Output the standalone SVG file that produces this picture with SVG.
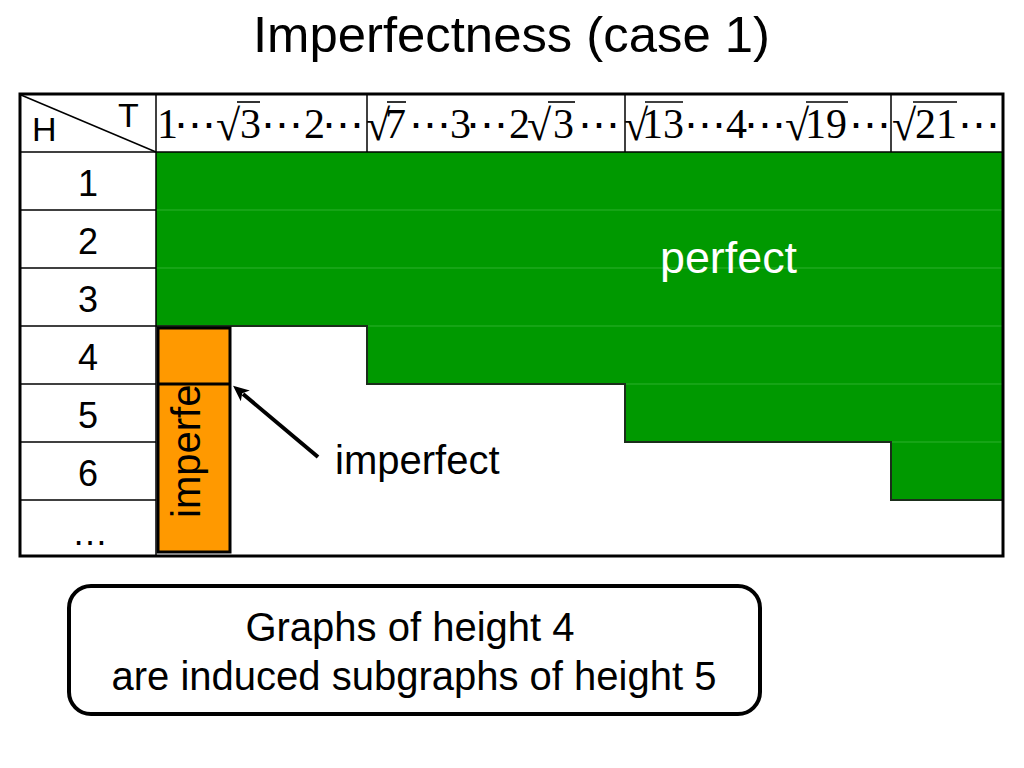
<svg xmlns="http://www.w3.org/2000/svg" width="1024" height="768" viewBox="0 0 1024 768">
<style>
.sans{font-family:"Liberation Sans",Arial,sans-serif;}
.serif{font-family:"Liberation Serif","Times New Roman",serif;font-size:42px;fill:#000;}
.rad{font-size:44px;}
.dots{font-family:"DejaVu Serif",serif;font-size:42px;}
.row{font-family:"Liberation Sans",Arial,sans-serif;font-size:36px;text-anchor:middle;fill:#000;}
.grid{stroke:#000;stroke-width:1.5;fill:none;}
.vinc{stroke:#000;stroke-width:1.6;}
.glow{stroke:#2db02d;stroke-width:1;}
</style>
<defs>
<marker id="arrowhead" markerWidth="16" markerHeight="14" refX="3" refY="7" orient="auto" markerUnits="userSpaceOnUse" viewBox="0 0 16 14">
<path d="M0,0 L16,7 L0,14 L4,7 Z" fill="#000"/>
</marker>
</defs>
<rect width="1024" height="768" fill="#fff"/>
<g id="title">
<text class="sans" x="253" y="52" font-size="50" textLength="517" lengthAdjust="spacingAndGlyphs">Imperfectness (case 1)</text>
</g>
<g id="table">
<polygon points="156,152 1003,152 1003,500 891,500 891,442 625,442 625,384 367,384 367,326 156,326" fill="#009900"/>
<line class="glow" x1="156" y1="210" x2="1003" y2="210"/>
<line class="glow" x1="156" y1="268" x2="1003" y2="268"/>
<line class="glow" x1="367" y1="326" x2="1003" y2="326"/>
<line class="glow" x1="625" y1="384" x2="1003" y2="384"/>
<line class="glow" x1="891" y1="442" x2="1003" y2="442"/>
<polyline points="156,326 367,326 367,384 625,384 625,442 891,442 891,500 1003,500" fill="none" stroke="#1b2e1b" stroke-width="2"/>
<line class="grid" x1="20" y1="152" x2="1003" y2="152"/>
<line class="grid" x1="156" y1="94" x2="156" y2="556"/>
<line class="grid" x1="367" y1="94" x2="367" y2="152"/>
<line class="grid" x1="625" y1="94" x2="625" y2="152"/>
<line class="grid" x1="891" y1="94" x2="891" y2="152"/>
<line class="grid" x1="20" y1="210" x2="156" y2="210"/>
<line class="grid" x1="20" y1="268" x2="156" y2="268"/>
<line class="grid" x1="20" y1="326" x2="156" y2="326"/>
<line class="grid" x1="20" y1="384" x2="156" y2="384"/>
<line class="grid" x1="20" y1="442" x2="156" y2="442"/>
<line class="grid" x1="20" y1="500" x2="156" y2="500"/>
<line class="grid" x1="21" y1="95" x2="156" y2="152"/>
<rect x="20" y="94" width="983" height="462" fill="none" stroke="#000" stroke-width="3"/>
<text class="sans" x="32" y="141" font-size="34">H</text>
<text class="sans" x="118" y="127" font-size="34">T</text>
<text class="row" x="88" y="196">1</text>
<text class="row" x="88" y="254">2</text>
<text class="row" x="88" y="312">3</text>
<text class="row" x="88" y="370">4</text>
<text class="row" x="88" y="428">5</text>
<text class="row" x="88" y="486">6</text>
<text class="row" x="90" y="545">…</text>
</g>
<g id="header">
<text class="serif" y="138"><tspan x="157">1</tspan><tspan class="dots" x="174">⋯</tspan><tspan class="rad" x="216" y="140">√</tspan><tspan x="240" y="138">3</tspan><tspan class="dots" x="261">⋯</tspan><tspan x="304">2</tspan><tspan class="dots" x="322">⋯</tspan></text>
<line class="vinc" x1="237" y1="102" x2="260" y2="102"/>

<text class="serif" y="138"><tspan class="rad" x="366" y="140">√</tspan><tspan x="385" y="138">7</tspan><tspan class="dots" x="409">⋯</tspan><tspan x="450">3</tspan><tspan class="dots" x="466">⋯</tspan><tspan x="509">2</tspan><tspan class="rad" x="527" y="140">√</tspan><tspan x="553" y="138">3</tspan><tspan class="dots" x="578">⋯</tspan></text>
<line class="vinc" x1="387" y1="102" x2="406" y2="102"/>
<line class="vinc" x1="548" y1="102" x2="575" y2="102"/>

<text class="serif" y="138"><tspan class="rad" x="624" y="140">√</tspan><tspan x="642" y="138">13</tspan><tspan class="dots" x="684">⋯</tspan><tspan x="726">4</tspan><tspan class="dots" x="744">⋯</tspan><tspan class="rad" x="785" y="140">√</tspan><tspan x="805" y="138">19</tspan><tspan class="dots" x="849">⋯</tspan></text>
<line class="vinc" x1="645" y1="102" x2="683" y2="102"/>
<line class="vinc" x1="806" y1="102" x2="848" y2="102"/>

<text class="serif" y="138"><tspan class="rad" x="892" y="140">√</tspan><tspan x="915" y="138">21</tspan><tspan class="dots" x="958">⋯</tspan></text>
<line class="vinc" x1="913" y1="102" x2="957" y2="102"/>
</g>
<g id="perfect-label">
<text class="sans" x="660" y="273" font-size="44" fill="#fff" textLength="137" lengthAdjust="spacingAndGlyphs">perfect</text>
</g>
<g id="imperfect-box">
<rect x="158" y="328" width="72" height="224" fill="#ff9900" stroke="#000" stroke-width="3"/>
<line x1="158" y1="384" x2="230" y2="384" stroke="#000" stroke-width="3"/>
<text class="sans" transform="translate(200,518) rotate(-90)" font-size="40" fill="#000">imperfe</text>
</g>
<g id="imperfect-label">
<text class="sans" x="335" y="474" font-size="40" fill="#000">imperfect</text>
</g>
<g id="connectors">
<line x1="318" y1="457" x2="243" y2="394" stroke="#000" stroke-width="4" marker-end="url(#arrowhead)"/>
</g>
<g id="note">
<rect x="69" y="586" width="691" height="128" rx="22" ry="22" fill="#fff" stroke="#000" stroke-width="4"/>
<text class="sans" x="410" y="641" font-size="40" text-anchor="middle">Graphs of height 4</text>
<text class="sans" x="414" y="690" font-size="40" text-anchor="middle">are induced subgraphs of height 5</text>
</g>
</svg>
